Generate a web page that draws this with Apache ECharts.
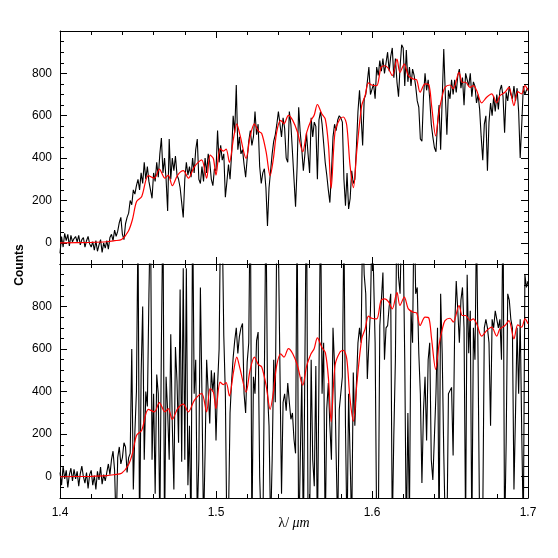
<!DOCTYPE html>
<html>
<head>
<meta charset="utf-8">
<script src="https://cdn.jsdelivr.net/npm/echarts@6/dist/echarts.min.js"></script>
<style>
  html, body { margin: 0; padding: 0; background: #fff; }
  #chart { width: 558px; height: 558px; }
</style>
</head>
<body>
<div id="chart"></div>
<script>
// sample grid of the observed spectra (micron)
var waveStart = 1.4
var waveStep = 0.001

// top panel: observed counts
var topCounts = [
  -50, 30, -20, 45, 10, 40, -15, 35, 5, 20,
  30, 5, 35, -10, 15, 25, -20, 10, 30, -5,
  -20, 5, -35, 10, -40, -10, 15, -45, 0, -25,
  10, -30, 25, 40, 10, 60, 30, 55, 95, 120,
  40, 15, 90, 120, 140, 200, 180, 250, 230, 270,
  300, 250, 330, 280, 380, 300, 360, 290, 250, 210,
  330, 290, 380, 310, 420, 495, 330, 400, 300, 150,
  490, 300, 400, 340, 410, 320, 300, 260, 190, 120,
  300, 380, 320, 360, 310, 400, 330, 440, 490, 300,
  280, 360, 290, 400, 330, 420, 380, 300, 270, 350,
  340, 530, 380, 460, 390, 420, 215, 290, 370, 300,
  420, 600, 520, 745, 440, 500, 420, 440, 370, 310,
  400, 480, 530, 460, 500, 620, 510, 560, 360, 280,
  330, 350, 260, 80, 260, 340, 420, 480, 510, 560,
  620, 560, 500, 590, 540, 400, 380, 620, 560, 430,
  300, 170, 360, 640, 520, 440, 340, 420, 520, 420,
  330, 590, 500, 570, 550, 300, 580, 620, 560, 470,
  380, 320, 250, 190, 330, 500, 560, 530, 580, 600,
  590, 570, 300, 175, 330, 160, 210, 340, 280, 300,
  450, 620, 720, 600, 460, 680, 700, 760, 830, 700,
  700, 750, 680, 830, 790, 860, 810, 870, 800, 850,
  900, 810, 880, 920, 780, 870, 760, 690, 830, 935,
  920, 740, 910, 760, 830, 740, 820, 790, 740, 670,
  640, 490, 480, 690, 800, 720, 770, 680, 560, 500,
  450, 430, 560, 650, 440, 680, 915, 700, 510, 720,
  680, 770, 700, 770, 710, 790, 820, 730, 780, 650,
  800, 770, 740, 800, 690, 760, 740, 660, 700, 630,
  500, 390, 560, 600, 340, 570, 660, 600, 690, 620,
  700, 630, 720, 745, 690, 520, 710, 670, 740, 700,
  680, 740, 670, 730, 620, 400, 560, 740, 700, 720,
  730
]

// bottom panel: noisy counts
var bottomCounts = [
  20, -40, 50, -10, 30, -50, 10, 40, -20, 35,
  -10, 25, -45, 15, 50, 0, -30, 20, -55, 10,
  30, -40, 5, -60, 25, -15, 45, -35, 10, -20,
  20, 60, 10, 80, 120, 30, -250, 90, 140, 60,
  90, 160, 140, 20, 90, 110, 600, -60, 210, 400,
  1200, -300, 480, 800, 80, 400, 330, 850, 1300, 80,
  390, -80, 480, 390, -250, 630, 1300, -300, 470, 310,
  80, 670, 240, -60, 610, 450, 160, 880, 70, 980,
  80, 980, -40, 240, -300, 1300, 390, 550, -200, 80,
  890, 390, -250, 110, 550, 400, 250, 500, 400, 490,
  170, 430, 600, 1300, 1200, 660, 390, -300, -200, 300,
  450, 560, 640, 700, 580, 660, 700, 720, 390, 300,
  540, 630, 1400, -300, 470, 390, 640, 680, 0, -250,
  -300, 470, 1300, 400, 240, -250, 80, 550, 350, 1200,
  1100, 500, -80, 350, 390, 310, 440, 350, 270, 300,
  175, 110, 1300, -350, 80, 470, -300, 550, 1400, -200,
  -250, 550, 80, -45, 520, -300, 470, 1300, 390, 630,
  -300, 320, 440, 240, 80, 700, 520, 110, -250, 315,
  320, 470, 1200, 240, -300, 390, 80, -250, 490, 240,
  240, 630, 700, 630, 1200, 950, 860, 460, 630, 780,
  1200, 950, 630, -250, -300, 710, 830, 960, 550, 700,
  710, 800, 860, -250, 200, 550, 1300, 940, 860, 1200,
  1100, 550, -300, 300, -200, 780, 630, 1300, 860, 890,
  580, 390, -30, 310, 470, 170, 550, 630, 80, -15,
  -15, 390, 700, -300, 860, 580, 110, -250, -300, 390,
  390, 420, 100, 700, 920, 780, 630, 830, 890, 700,
  -250, 950, 580, 780, -300, 700, 550, 1200, 550, -250,
  -300, -200, 700, 740, 700, 630, 240, 740, 700, 780,
  780, 700, 740, 550, 1300, -300, 160, 860, 830, 740,
  700, -60, 300, 700, 390, 740, 200, -250, 950, 890,
  920
]

// model spectrum (red), same in both panels
var modelWave = [
  1.400, 1.420, 1.430, 1.435, 1.4395, 1.4438, 1.4464, 1.4491, 1.4524, 1.4566,
  1.4605, 1.4637, 1.4673, 1.4694, 1.4720, 1.4754, 1.4791, 1.4823, 1.4861, 1.4908,
  1.4940, 1.4962, 1.4983, 1.5000, 1.5026, 1.5047, 1.5065, 1.5086, 1.5112, 1.5133,
  1.5154, 1.5193, 1.5218, 1.5246, 1.5272, 1.5293, 1.5321, 1.5347, 1.5368, 1.5389,
  1.5415, 1.5436, 1.5464, 1.5492, 1.5522, 1.5556, 1.5582, 1.5609, 1.5629, 1.5650,
  1.5678, 1.5701, 1.5721, 1.5738, 1.5763, 1.5795, 1.5817, 1.5838, 1.5859, 1.5881,
  1.5902, 1.5934, 1.5956, 1.5977, 1.5998, 1.6030, 1.6058, 1.6083, 1.6105, 1.6130,
  1.6160, 1.6179, 1.6207, 1.6233, 1.6265, 1.6286, 1.6308, 1.6340, 1.6365, 1.6382,
  1.6408, 1.6429, 1.6451, 1.6468, 1.6500, 1.6521, 1.6558, 1.6579, 1.6600, 1.6628,
  1.6649, 1.6671, 1.6703, 1.6735, 1.6767, 1.6799, 1.6820, 1.6852, 1.6878, 1.6910,
  1.6934, 1.6959, 1.6981, 1.7000
]
var modelCounts = [
  0, 2, 5, 10, 16, 55, 109, 195, 219, 317,
  305, 348, 305, 320, 270, 320, 341, 305, 359, 392,
  305, 414, 398, 320, 445, 433, 442, 380, 492, 562,
  508, 398, 500, 562, 527, 516, 430, 317, 398, 523,
  578, 562, 602, 578, 523, 430, 523, 578, 602, 653,
  609, 583, 461, 258, 523, 586, 594, 555, 367, 261,
  430, 648, 695, 755, 745, 742, 828, 836, 823, 789,
  867, 805, 844, 789, 773, 770, 711, 750, 745, 648,
  505, 617, 695, 734, 745, 727, 805, 758, 758, 734,
  742, 719, 661, 687, 703, 661, 695, 711, 734, 648,
  714, 703, 742, 719
]

var xMajor = [1.4, 1.5, 1.6, 1.7]
var xMinor = [1.42, 1.44, 1.46, 1.48, 1.52, 1.54, 1.56, 1.58, 1.62, 1.64, 1.66, 1.68]
var yMajor = [0, 200, 400, 600, 800]
var yMinor = [-50, 50, 100, 150, 250, 300, 350, 450, 500, 550, 650, 700, 750, 850, 900, 950]

function spectrum(counts) {
  return counts.map(function (v, i) {
    return [+(waveStart + i * waveStep).toFixed(4), v]
  })
}

function model() {
  var out = []
  for (var i = 0; i < Math.min(modelWave.length, modelCounts.length); i++) {
    out.push([modelWave[i], modelCounts[i]])
  }
  return out
}

var labelFont = { color: '#000', fontFamily: 'Liberation Sans', fontSize: 12 }

function xAxes(g) {
  var list = []
  ;['bottom', 'top'].forEach(function (pos) {
    list.push({
      type: 'value', gridIndex: g, position: pos, min: 1.4, max: 1.7,
      axisLine: { show: true, onZero: false, lineStyle: { color: '#000', width: 1 } },
      axisTick: { show: true, inside: true, length: 7, customValues: xMajor, lineStyle: { color: '#000' } },
      axisLabel: Object.assign({
        show: g === 1 && pos === 'bottom', customValues: xMajor, margin: 9,
        formatter: function (v) { return v.toFixed(1) }
      }, labelFont),
      splitLine: { show: false }
    })
    list.push({
      type: 'value', gridIndex: g, position: pos, min: 1.4, max: 1.7,
      axisLine: { show: false, onZero: false },
      axisTick: { show: true, inside: true, length: 4, customValues: xMinor, lineStyle: { color: '#000' } },
      axisLabel: { show: false },
      splitLine: { show: false }
    })
  })
  return list
}

function yAxes(g) {
  var list = []
  ;['left', 'right'].forEach(function (pos) {
    list.push({
      type: 'value', gridIndex: g, position: pos, min: -100, max: 1000,
      axisLine: { show: true, onZero: false, lineStyle: { color: '#000', width: 1 } },
      axisTick: { show: true, inside: true, length: 7, customValues: yMajor, lineStyle: { color: '#000' } },
      axisLabel: Object.assign({ show: pos === 'left', customValues: yMajor, margin: 8 }, labelFont),
      splitLine: { show: false }
    })
    list.push({
      type: 'value', gridIndex: g, position: pos, min: -100, max: 1000,
      axisLine: { show: false, onZero: false },
      axisTick: { show: true, inside: true, length: 4, customValues: yMinor, lineStyle: { color: '#000' } },
      axisLabel: { show: false },
      splitLine: { show: false }
    })
  })
  return list
}

var chart = echarts.init(document.getElementById('chart'), null, { renderer: 'canvas' })

chart.setOption({
  animation: false,
  backgroundColor: '#fff',
  grid: [
    { left: 60, right: 30, top: 31, height: 233 },
    { left: 60, right: 30, top: 264, height: 234 }
  ],
  xAxis: xAxes(0).concat(xAxes(1)),
  yAxis: yAxes(0).concat(yAxes(1)),
  series: [
    {
      type: 'line', xAxisIndex: 0, yAxisIndex: 0, data: spectrum(topCounts),
      showSymbol: false, clip: true, lineStyle: { color: '#000', width: 1.1 }, z: 2
    },
    {
      type: 'line', xAxisIndex: 0, yAxisIndex: 0, data: model(), smooth: 0.3,
      showSymbol: false, clip: true, lineStyle: { color: '#ff0000', width: 1.2 }, z: 3
    },
    {
      type: 'line', xAxisIndex: 4, yAxisIndex: 4, data: spectrum(bottomCounts),
      showSymbol: false, clip: true, lineStyle: { color: '#000', width: 1.1 }, z: 2
    },
    {
      type: 'line', xAxisIndex: 4, yAxisIndex: 4, data: model(), smooth: 0.3,
      showSymbol: false, clip: true, lineStyle: { color: '#ff0000', width: 1.2 }, z: 3
    }
  ],
  graphic: [
    {
      type: 'text', x: 20, y: 265, rotation: Math.PI / 2,
      style: {
        text: 'Counts', fill: '#000', font: 'bold 12px "Liberation Sans"',
        textAlign: 'center', textVerticalAlign: 'middle'
      }
    },
    {
      type: 'text', x: 294, y: 523,
      style: {
        text: '{a|λ/ }{b|μm}', textAlign: 'center', textVerticalAlign: 'middle',
        rich: {
          a: { fontFamily: 'Liberation Serif', fontSize: 14, fill: '#000' },
          b: { fontFamily: 'Liberation Serif', fontStyle: 'italic', fontSize: 14, fill: '#000' }
        }
      }
    }
  ]
})
</script>
</body>
</html>
